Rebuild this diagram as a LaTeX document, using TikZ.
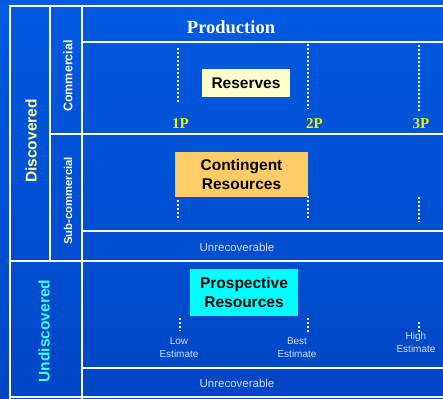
\documentclass[tikz,border=0pt]{standalone}
\usepackage{fontspec}
\setmainfont{Liberation Serif}
\setsansfont{Liberation Sans}
\usetikzlibrary{positioning}

\definecolor{bgtop}{RGB}{0,90,224}
\definecolor{bgbot}{RGB}{0,70,198}
\definecolor{reservefill}{RGB}{255,255,204}
\definecolor{contfill}{RGB}{255,204,102}
\definecolor{prospfill}{RGB}{0,255,255}
\definecolor{pyellow}{RGB}{240,240,0}
\definecolor{discyellow}{RGB}{255,255,153}
\definecolor{undiscyan}{RGB}{60,255,255}
\definecolor{estgrey}{RGB}{215,222,240}

\tikzset{
  gridline/.style={white, line width=2.2pt, line cap=rect},
  dotline/.style={white, line width=2.6pt, dash pattern=on 2pt off 2pt},
  classbox/.style={inner sep=0pt, align=center, text=black,
    font=\sffamily\bfseries\fontsize{15.5}{19.5}\selectfont},
  sidelabel/.style={rotate=90, inner sep=0pt},
  plabel/.style={text=pyellow, inner sep=0pt, font=\rmfamily\bfseries\fontsize{15}{17}\selectfont},
  estlabel/.style={text=estgrey, inner sep=0pt, align=center,
    font=\sffamily\fontsize{10}{13}\selectfont},
  unrec/.style={text=estgrey, inner sep=0pt, font=\sffamily\fontsize{11.5}{13}\selectfont}
}

\begin{document}
\begin{tikzpicture}[x=1pt, y=-1pt]
    \useasboundingbox (0,0) rectangle (443,398);
    % Background
    \shade[top color=bgtop, bottom color=bgbot] (0,0) rectangle (443,398);

    % Table lines
    \draw[gridline] (10,398) -- (10,6) -- (443,6);
    \draw[gridline] (50,6) -- (50,261);
    \draw[gridline] (82,6) -- (82,398);
    \draw[gridline] (82,42) -- (443,42);
    \draw[gridline] (50,134) -- (443,134);
    \draw[gridline] (82,231) -- (443,231);
    \draw[gridline] (10,261) -- (443,261);
    \draw[gridline] (82,368) -- (443,368);
    \draw[gridline] (10,397) -- (443,397);

    % Side labels
    \node[sidelabel, text=discyellow, font=\sffamily\bfseries\fontsize{15.5}{17}\selectfont] at (31,141) (disc) {Discovered};
    \node[sidelabel, text=undiscyan, font=\sffamily\bfseries\fontsize{15.5}{17}\selectfont] at (44,331) (undisc) {Undiscovered};
    \node[sidelabel, text=white, font=\sffamily\bfseries\fontsize{12.5}{14}\selectfont] at (68,76) (comm) {Commercial};
    \node[sidelabel, text=white, font=\sffamily\bfseries\fontsize{11.3}{13}\selectfont] at (68,201) (subcomm) {Sub-commercial};

    % Production row
    \node[text=white, inner sep=0pt, font=\rmfamily\bfseries\fontsize{18.5}{20}\selectfont] at (231,27) (prod) {Production};

    % Class boxes
    \node[classbox, fill=reservefill, minimum width=88pt, minimum height=28pt] at (246,83) (res) {Reserves};
    \node[classbox, fill=contfill, minimum width=133pt, minimum height=45pt] at (241.5,174.5) (cont) {Contingent\\Resources};
    \node[classbox, fill=prospfill, minimum width=108pt, minimum height=47pt] at (244,292.5) (prosp) {Prospective\\Resources};

    % 1P 2P 3P
    \node[plabel] at (180.5,124) (p1) {1P};
    \node[plabel] at (314.5,124) (p2) {2P};
    \node[plabel] at (421,124) (p3) {3P};
    \draw[dotline] (178,48) -- (178,103);
    \draw[dotline] (308,44) -- (308,109);
    \draw[dotline] (419,45) -- (419,112);

    % Contingent dots
    \draw[dotline] (178,200) -- (178,220);
    \draw[dotline] (308,196) -- (308,218);
    \draw[dotline] (419,197) -- (419,222);
    \node[unrec] at (237,247) (unrec1) {Unrecoverable};

    % Prospective estimates
    \draw[dotline] (180,318) -- (180,331);
    \draw[dotline] (308,318) -- (308,332);
    \draw[dotline] (419,322) -- (419,332);
    \node[estlabel] at (179,348) (low) {Low\\Estimate};
    \node[estlabel] at (297,348) (best) {Best\\Estimate};
    \node[estlabel] at (416,342) (high) {High\\Estimate};
    \node[unrec] at (237,383) (unrec2) {Unrecoverable};
\end{tikzpicture}
\end{document}
